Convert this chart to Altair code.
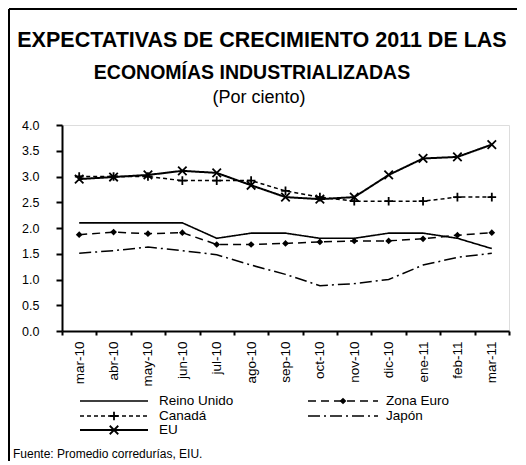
import altair as alt
import pandas as pd

months = ["mar-10", "abr-10", "may-10", "jun-10", "jul-10", "ago-10", "sep-10",
          "oct-10", "nov-10", "dic-10", "ene-11", "feb-11", "mar-11"]
series_names = ["Reino Unido", "Zona Euro", "Canadá", "Japón", "EU"]
reino_unido = [2.1, 2.1, 2.1, 2.1, 1.8, 1.9, 1.9, 1.8, 1.8, 1.9, 1.9, 1.8, 1.6]
zona_euro = [1.87, 1.92, 1.89, 1.91, 1.68, 1.68, 1.70, 1.73, 1.75, 1.75, 1.79, 1.86, 1.91]
canada = [3.0, 3.0, 3.0, 2.92, 2.92, 2.92, 2.72, 2.6, 2.52, 2.52, 2.52, 2.6, 2.6]
japon = [1.51, 1.56, 1.63, 1.56, 1.48, 1.28, 1.10, 0.88, 0.92, 1.0, 1.28, 1.43, 1.51]
eu = [2.95, 2.99, 3.03, 3.11, 3.07, 2.83, 2.60, 2.56, 2.60, 3.03, 3.35, 3.38, 3.62]
y_ticks = [0.0, 0.5, 1.0, 1.5, 2.0, 2.5, 3.0, 3.5, 4.0]
title_lines = ["EXPECTATIVAS DE CRECIMIENTO 2011 DE LAS", "ECONOMÍAS INDUSTRIALIZADAS"]
subtitle = "(Por ciento)"
source = "Fuente: Promedio corredurías,  EIU."

values = [reino_unido, zona_euro, canada, japon, eu]
rows = []
for name, vals in zip(series_names, values):
    for m, v in zip(months, vals):
        rows.append({"month": m, "series": name, "value": v})
df = pd.DataFrame(rows)

FONT = "Liberation Sans"
W, H = 447, 206

PLUS = "M-1,0L1,0M0,-1L0,1"
XMARK = "M-1,-1L1,1M-1,1L1,-1"

style = {
    "Reino Unido": dict(dash=[1, 0], width=1.6, shape=None, size=0, filled=False),
    "Zona Euro": dict(dash=[8, 5], width=1.5, shape="diamond", size=45, filled=True),
    "Canadá": dict(dash=[4, 3], width=1.5, shape=PLUS, size=75, filled=False),
    "Japón": dict(dash=[12, 4, 2, 4], width=1.5, shape=None, size=0, filled=False),
    "EU": dict(dash=[1, 0], width=2, shape=XMARK, size=72, filled=False),
}

x_enc = alt.X(
    "month:N", sort=months, bandPosition=0.5,
    scale=alt.Scale(type="band", paddingInner=0, paddingOuter=0),
    axis=alt.Axis(title=None, tickBand="extent", labelAngle=270, labelFontSize=13.5,
                  labelPadding=6, tickSize=4, tickWidth=2, domainWidth=2,
                  domainColor="black", tickColor="black", labelColor="black", grid=False),
)
y_enc = alt.Y(
    "value:Q",
    scale=alt.Scale(domain=[0, 4], nice=False, zero=True),
    axis=alt.Axis(title=None, values=y_ticks, format=".1f", labelFontSize=12.5,
                  labelPadding=17, tickSize=6, tickWidth=2, domainWidth=2,
                  domainColor="black", tickColor="black", labelColor="black", grid=False),
)

base = alt.Chart(df)
layers = []
for name in series_names:
    s = style[name]
    sub = base.transform_filter(alt.datum.series == name)
    layers.append(sub.mark_line(color="black", strokeWidth=s["width"], strokeDash=s["dash"]).encode(x=x_enc, y=y_enc))
    if s["shape"]:
        if s["filled"]:
            pm = sub.mark_point(shape=s["shape"], size=s["size"], filled=True, color="black", opacity=1)
        else:
            pm = sub.mark_point(shape=s["shape"], size=s["size"], filled=False, color="black",
                                strokeWidth=1.8, opacity=1)
        layers.append(pm.encode(x=x_enc, y=y_enc))

dummy = pd.DataFrame({"a": [0]})
deco = alt.Chart(dummy)

# frame
layers.append(deco.mark_rule(color="black", strokeWidth=2).encode(
    x=alt.value(-53), y=alt.value(-116), y2=alt.value(336)))
layers.append(deco.mark_rule(color="black", strokeWidth=2).encode(
    x=alt.value(-53), x2=alt.value(455), y=alt.value(-116)))

# titles
cx = 197
layers.append(deco.mark_text(text=title_lines[0], fontSize=21.5, fontWeight="bold", font=FONT,
                             align="center", baseline="middle", color="black").encode(
    x=alt.value(cx + 3), y=alt.value(-84)))
layers.append(deco.mark_text(text=title_lines[1], fontSize=19.5, fontWeight="bold", font=FONT,
                             align="center", baseline="middle", color="black").encode(
    x=alt.value(cx - 7), y=alt.value(-52)))
layers.append(deco.mark_text(text=subtitle, fontSize=18, font=FONT,
                             align="center", baseline="middle", color="black").encode(
    x=alt.value(cx), y=alt.value(-27)))

# legend
leg_pos = {
    "Reino Unido": (18, 86, 52, 97, 276),
    "Zona Euro": (246, 316, 281, 324, 276),
    "Canadá": (18, 86, 52, 97, 291),
    "Japón": (246, 316, 281, 324, 291),
    "EU": (18, 86, 52, 97, 305),
}
for name in series_names:
    s = style[name]
    x0, x1, xm, xt, yy = leg_pos[name]
    layers.append(deco.mark_rule(color="black", strokeWidth=s["width"], strokeDash=s["dash"]).encode(
        x=alt.value(x0), x2=alt.value(x1), y=alt.value(yy)))
    if s["shape"]:
        if s["filled"]:
            pm = deco.mark_point(shape=s["shape"], size=s["size"], filled=True, color="black", opacity=1)
        else:
            pm = deco.mark_point(shape=s["shape"], size=s["size"], filled=False, color="black",
                                 strokeWidth=1.8, opacity=1)
        layers.append(pm.encode(x=alt.value(xm), y=alt.value(yy)))
    layers.append(deco.mark_text(text=name, fontSize=13.5, font=FONT, align="left",
                                 baseline="middle", color="black").encode(
        x=alt.value(xt), y=alt.value(yy)))

layers.append(deco.mark_text(text=source, fontSize=12, font=FONT, align="left",
                             baseline="middle", color="black").encode(
    x=alt.value(-49), y=alt.value(329)))

chart = alt.layer(*layers).properties(width=W, height=H, padding=0).configure_view(
    stroke=None).configure(font=FONT, background="white")

chart.save("out.html", embed_options={"renderer": "svg", "actions": False})
